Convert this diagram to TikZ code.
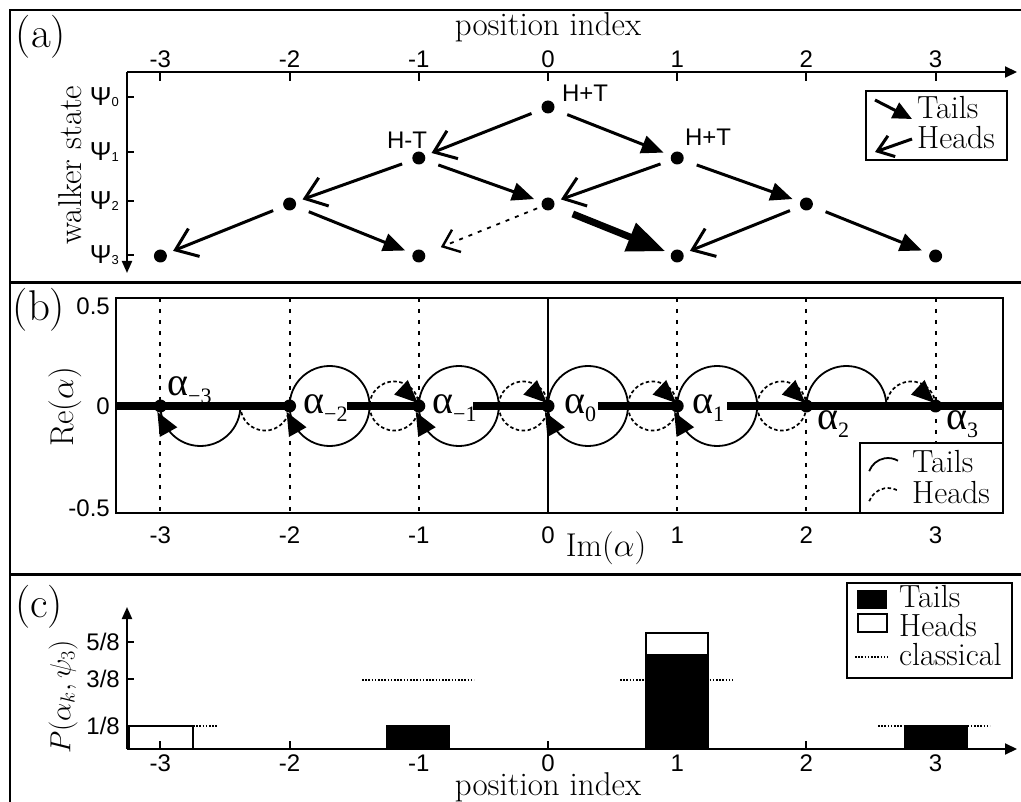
\documentclass[tikz,border=0pt]{standalone}
\usepackage{fix-cm}
\usepackage{fontspec}
\newfontfamily\arial{Liberation Sans}
\newfontfamily\tnr{Liberation Serif}
\usetikzlibrary{arrows.meta}
\tikzset{
 dot/.style={circle,fill=black,inner sep=0pt,minimum size=13pt},
 ax/.style={line width=2pt},
 sl/.style={font=\arial\fontsize{24}{24}\selectfont, inner sep=0pt},
 rl/.style={font=\fontsize{33}{33}\selectfont, inner sep=0pt},
 ll/.style={font=\fontsize{32}{32}\selectfont, inner sep=0pt, anchor=base west},
 pl/.style={font=\fontsize{43}{43}\selectfont, inner sep=0pt},
 al/.style={font=\tnr\fontsize{40}{40}\selectfont, inner sep=0pt, anchor=base west},
 tailarr/.style={line width=3pt, -{Triangle[length=22pt,width=18pt]}, shorten <=14pt, shorten >=8pt},
 headarr/.style={line width=3pt, -{Straight Barb[length=20pt,width=30pt]}, shorten <=11pt, shorten >=7pt},
 headdot/.style={line width=1.8pt, dash pattern=on 4pt off 6pt, -{Straight Barb[length=15pt,width=24pt,line width=2.4pt]}, shorten <=5pt, shorten >=17pt},
 tailthick/.style={line width=7pt, -{Triangle[length=38pt,width=29pt]}, shorten <=20pt, shorten >=6pt},
 tcirc/.style={line width=1.8pt},
 hcirc/.style={line width=1.7pt, dash pattern=on 3.5pt off 2.5pt},
 vdot/.style={line width=2pt, dash pattern=on 4pt off 7pt},
 cl/.style={line width=1.6pt, dash pattern=on 1.6pt off 1.6pt},
 legbox/.style={line width=1.5pt, fill=white},
 btri/.style={fill=black},
}
\begin{document}
\begin{tikzpicture}[x=1pt,y=1pt]
\useasboundingbox (0,0) rectangle (1021,-802);
% frame
\draw[line width=2.5pt] (1021,-10) -- (10,-10) -- (10,-802);
\draw[line width=3pt] (10,-282.5) -- (1021,-282.5);
\draw[line width=3pt] (10,-574) -- (1021,-574);

% ================= panel (a)
\node[pl] (la) at (41,-37) {(a)};
\node[rl, anchor=base] (ta) at (548,-36) {position index};
\node[rl, rotate=90] (wa) at (70,-165) {walker state};
\draw[ax, -{Triangle[length=12pt,width=11pt]}] (127,-72) -- (1017,-72);
\draw[ax, -{Triangle[length=12pt,width=10pt]}] (127,-72) -- (127,-273);
\foreach \x/\l in {160.4/-3,289.6/-2,418.8/-1,548/0,677.2/1,806.4/2,935.6/3}{
  \draw[ax] (\x,-72) -- (\x,-81);
  \node[sl] at (\x,-59) {\l};
}
\foreach \y/\s in {97/0,152/1,201/2,255/3}{
  \draw[ax] (127,-\y) -- (134,-\y);
  \node[sl, anchor=base east] at (119,-\y-9) {{\fontsize{26}{26}\selectfont Ψ}\raisebox{-1pt}{\fontsize{13}{13}\selectfont\s}};
}
\node[dot] (p00) at (548,-107) {};
\node[dot] (p1m) at (418.8,-158) {};
\node[dot] (p1p) at (677.2,-158) {};
\node[dot] (p2mm) at (289.6,-204) {};
\node[dot] (p20) at (548,-204) {};
\node[dot] (p2pp) at (806.4,-204) {};
\node[dot] (p3a) at (160.4,-256) {};
\node[dot] (p3b) at (418.8,-256) {};
\node[dot] (p3c) at (677.2,-256) {};
\node[dot] (p3d) at (935.6,-256) {};
\node[sl] (hta) at (585,-93) {H+T};
\node[sl] (htb) at (407,-140) {H-T};
\node[sl] (htc) at (708,-137) {H+T};
\draw[headarr] (p00) -- (p1m);
\draw[tailarr] (p00) -- (p1p);
\draw[headarr] (p1m) -- (p2mm);
\draw[tailarr] (p1m) -- (p20);
\draw[headarr] (p1p) -- (p20);
\draw[tailarr] (p1p) -- (p2pp);
\draw[headarr] (p2mm) -- (p3a);
\draw[tailarr] (p2mm) -- (p3b);
\draw[headdot] (p20) -- (p3b);
\draw[tailthick] (p20) -- (p3c);
\draw[headarr] (p2pp) -- (p3c);
\draw[tailarr] (p2pp) -- (p3d);
% legend (a)
\draw[legbox] (866,-91) rectangle (1007,-160);
\coordinate (lta) at (875,-100);
\coordinate (ltb) at (912,-119);
\draw[line width=3pt,-{Triangle[length=19pt,width=17pt]}] (lta) -- (ltb);
\coordinate (lha) at (912,-139);
\coordinate (lhb) at (875,-152);
\draw[line width=3pt,-{Straight Barb[length=15pt,width=22pt]}] (lha) -- (lhb);
\node[ll] at (917,-119) {Tails};
\node[ll] at (917,-149) {Heads};

% ================= panel (b)
\node[pl] (lb) at (39,-310) {(b)};
\node[rl, rotate=90] (re) at (65,-407) {$\mathrm{Re}(\alpha)$};
\node[rl] (im) at (606,-548) {$\mathrm{Im}(\alpha)$};
\node[sl, anchor=east] at (110,-306) {0.5};
\node[sl, anchor=east] at (110,-406) {0};
\node[sl, anchor=east] at (110,-508) {-0.5};
\foreach \x/\l in {160.4/-3,289.6/-2,418.8/-1,548/0,677.2/1,806.4/2,935.6/3}{
  \node[sl] at (\x,-535) {\l};
}
\foreach \x in {160.4,289.6,418.8,677.2,806.4,935.6}{
  \draw[vdot] (\x,-298) -- (\x,-513);
}
\draw[line width=1.8pt] (548,-298) -- (548,-513);
\draw[line width=2pt] (116,-298) rectangle (1003,-513);
% thick zero line with gaps for labels
\draw[line width=8pt] (116,-406) -- (289.6,-406) (347,-406) -- (418.8,-406)
  (473,-406) -- (548,-406) (598,-406) -- (677.2,-406) (727,-406) -- (1003,-406);
% tails circles
\draw[tcirc] (160.4,-406) arc[start angle=180,end angle=360,radius=40];
\foreach \x in {289.6,418.8,548,677.2}{ \draw[tcirc] (\x+40,-406) circle[radius=40]; }
\draw[tcirc] (806.4,-406) arc[start angle=180,end angle=0,radius=40];
% heads circles
\draw[hcirc] (240.4,-406) arc[start angle=180,end angle=360,radius=24.6];
\foreach \x in {418.8,548,677.2,806.4}{ \draw[hcirc] (\x-24.6,-406) circle[radius=24.6]; }
\draw[hcirc] (886.4,-406) arc[start angle=180,end angle=0,radius=24.6];
% dots
\node[dot] (b1) at (160.4,-406) {};
\node[dot] (b2) at (289.6,-406) {};
\node[dot] (b3) at (418.8,-406) {};
\node[dot] (b4) at (548,-406) {};
\node[dot] (b5) at (677.2,-406) {};
\node[dot] (b6) at (806.4,-406) {};
\node[dot] (b7) at (935.6,-406) {};
% arrowheads
\foreach \x in {160.4,289.6,418.8,548,677.2}{
  \fill[btri, shift={(\x-3,-412)}, rotate=119] (0,0) -- (-23,10) -- (-23,-10) -- cycle;
}
\foreach \x in {418.8,548,677.2,806.4,935.6}{
  \fill[btri, shift={(\x-1,-403)}, rotate=-43] (0,0) -- (-23,10) -- (-23,-10) -- cycle;
}
% alpha labels
\node[al] (am3) at (167,-396) {α\raisebox{-8pt}{\fontsize{22}{22}\selectfont −3}};
\node[al] (am2) at (303,-414) {α\raisebox{-8pt}{\fontsize{22}{22}\selectfont −2}};
\node[al] (am1) at (432,-414) {α\raisebox{-8pt}{\fontsize{22}{22}\selectfont −1}};
\node[al] (a0) at (564,-414) {α\raisebox{-8pt}{\fontsize{22}{22}\selectfont 0}};
\node[al] (a1) at (692,-414) {α\raisebox{-8pt}{\fontsize{22}{22}\selectfont 1}};
\node[al] (a2) at (817,-430) {α\raisebox{-8pt}{\fontsize{22}{22}\selectfont 2}};
\node[al] (a3) at (946,-430) {α\raisebox{-8pt}{\fontsize{22}{22}\selectfont 3}};
% legend (b)
\draw[legbox] (860,-443) rectangle (1003,-513);
\draw[tcirc] (869.2,-471.2) arc[start angle=160,end angle=60,radius=20];
\draw[hcirc] (869.2,-501.2) arc[start angle=160,end angle=60,radius=20];
\node[ll] at (912,-472) {Tails};
\node[ll] at (912,-503) {Heads};

% ================= panel (c)
\node[pl] (lc) at (39,-607) {(c)};
\node[font=\fontsize{29}{29}\selectfont, inner sep=0pt, rotate=90] (py) at (63,-697) {$P(\alpha_k,\psi_3)$};
\node[rl, anchor=base] (tc) at (548,-795) {position index};
% bars
\draw[line width=2pt] (129,-726) rectangle (193,-749);
\fill (386,-725) rectangle (450,-749);
\fill (645,-655) rectangle (709,-749);
\draw[line width=2pt] (646,-633) rectangle (708,-655);
\fill (904,-725) rectangle (968,-749);
% classical
\draw[cl] (129,-726) -- (217,-726);
\draw[cl] (362,-680) -- (474,-680);
\draw[cl] (620,-680) -- (733,-680);
\draw[cl] (878,-726) -- (990,-726);
% axes
\draw[ax, -{Triangle[length=12pt,width=10pt]}] (127,-749) -- (127,-607);
\draw[ax, -{Triangle[length=12pt,width=11pt]}] (127,-749) -- (1017,-749);
\foreach \y/\l in {642/5\slash 8,679/3\slash 8,726/1\slash 8}{
  \draw[ax] (127,-\y) -- (134,-\y);
  \node[sl, anchor=east] at (120,-\y) {\l};
}
\foreach \x/\l in {160.4/-3,289.6/-2,418.8/-1,548/0,677.2/1,806.4/2,935.6/3}{
  \draw[ax] (\x,-749) -- (\x,-741);
  \node[sl] at (\x,-763) {\l};
}
% legend (c)
\draw[legbox] (847,-583) rectangle (1012,-678);
\fill (857,-590) rectangle (887,-609);
\draw[line width=2pt] (858,-614) rectangle (887,-632);
\draw[cl] (855,-657) -- (888,-657);
\node[ll] at (899,-607) {Tails};
\node[ll] at (899,-636) {Heads};
\node[ll] at (899,-665) {classical};
\end{tikzpicture}
\end{document}
